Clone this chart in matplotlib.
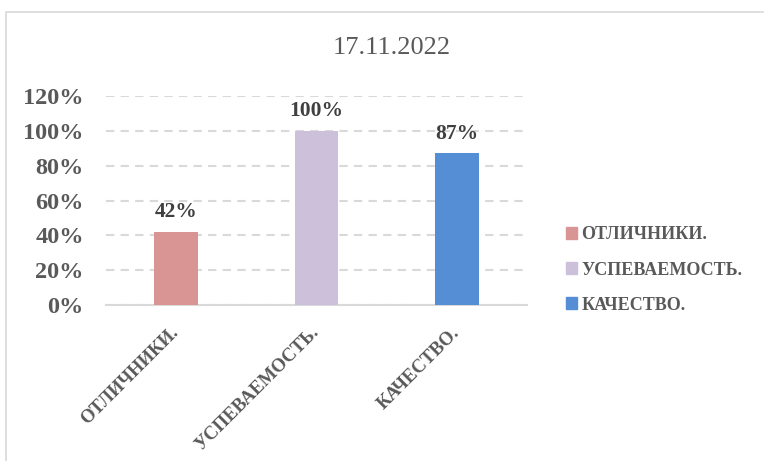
import matplotlib.pyplot as plt
from matplotlib.patches import Rectangle

# data
categories = ["ОТЛИЧНИКИ.", "УСПЕВАЕМОСТЬ.", "КАЧЕСТВО."]
values = [0.42, 1.00, 0.87]
labels = ["42%", "100%", "87%"]
colors = ["#D99594", "#CCC0DA", "#558ED5"]
yticks = [0, 0.2, 0.4, 0.6, 0.8, 1.0, 1.2]
ytick_labels = ["0%", "20%", "40%", "60%", "80%", "100%", "120%"]
title = "17.11.2022"

plt.rcParams['font.family'] = ['Liberation Serif', 'DejaVu Serif']
grey = "#595959"

fig = plt.figure(figsize=(7.64, 4.61), dpi=100)
fig.patch.set_facecolor("white")

# outer chart frame (cut off on right and bottom)
fig.patches.append(Rectangle((6 / 764, -0.2), 2, (461 - 12) / 461 + 0.2,
                             transform=fig.transFigure, fill=False,
                             edgecolor="#D9D9D9", linewidth=1.2))

ax = fig.add_axes([106 / 764, 1 - 305 / 461, 421 / 764, 209 / 461])

x = range(len(categories))
bars = ax.bar(x, values, width=0.31, color=colors, zorder=3)
for i, (v, lab) in enumerate(zip(values, labels)):
    ax.text(i, v + 0.055, lab, ha="center", va="bottom", fontsize=15.5,
            fontweight="bold", color="#404040")

ax.set_xlim(-0.5, 2.5)
ax.set_ylim(0, 1.2)
ax.set_yticks(yticks)
ax.set_yticklabels(ytick_labels, fontsize=17.5, fontweight="bold", color=grey)
ax.tick_params(axis="y", length=0, pad=16)

ax.set_xticks(list(x))
ax.set_xticklabels(categories, rotation=45, ha="right", va="center",
                   rotation_mode="anchor", fontsize=13.5, fontweight="bold",
                   color=grey)
ax.tick_params(axis="x", length=0, pad=18)

ax.yaxis.grid(True, linestyle=(0, (4, 3)), color="#D9D9D9", linewidth=1.5, zorder=0)
for s in ["top", "right", "left"]:
    ax.spines[s].set_visible(False)
ax.spines["bottom"].set_color("#D9D9D9")
ax.spines["bottom"].set_linewidth(1.5)

fig.text(392 / 764, 1 - 48 / 461, title, ha="center", va="center",
         fontsize=19, color=grey)

# legend
handles = [Rectangle((0, 0), 1, 1, color=c) for c in colors]
leg = fig.legend(handles, categories, loc="center left",
                 bbox_to_anchor=(550 / 764, 1 - 270 / 461), frameon=False,
                 prop={"weight": "bold", "size": 13}, handlelength=0.6,
                 handleheight=0.6, handletextpad=0.25, labelspacing=1.0)
for t in leg.get_texts():
    t.set_color(grey)

fig.savefig("out.png", dpi=100)
